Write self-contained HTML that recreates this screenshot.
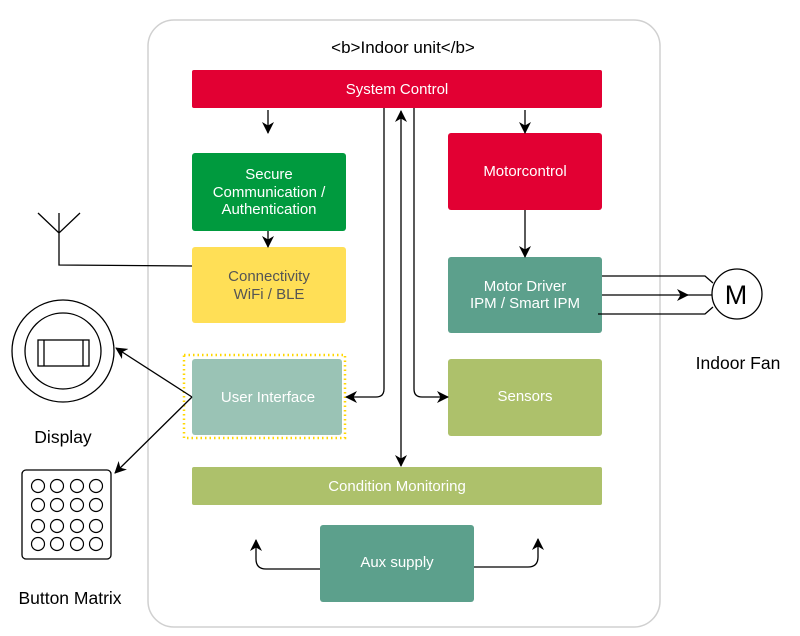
<!DOCTYPE html>
<html><head><meta charset="utf-8"><style>
html,body{margin:0;padding:0;background:#fff;}
svg{display:block;font-family:"Liberation Sans",Arial,sans-serif;}
</style></head><body>
<svg width="800" height="636" viewBox="0 0 800 636" xmlns="http://www.w3.org/2000/svg">
<defs>
<marker id="a" markerWidth="12" markerHeight="12" refX="11" refY="6" orient="auto-start-reverse" markerUnits="userSpaceOnUse">
<path d="M0,0 L12,6 L0,12 L3.5,6 Z" fill="#000"/></marker>
</defs>
<rect x="148" y="20" width="512" height="607" rx="26" fill="#fff" stroke="#d0d0d0" stroke-width="1.5"/>
<text x="403" y="53" font-size="17" text-anchor="middle" fill="#000">&lt;b&gt;Indoor unit&lt;/b&gt;</text>

<rect x="192" y="70" width="410" height="38" rx="2" fill="#e20033"/>
<text x="397" y="94" font-size="15" fill="#fff" text-anchor="middle">System Control</text>

<rect x="192" y="153" width="154" height="78" rx="3" fill="#009a3e"/>
<text x="269" y="179" font-size="15" fill="#fff" text-anchor="middle">Secure</text>
<text x="269" y="197" font-size="15" fill="#fff" text-anchor="middle">Communication /</text>
<text x="269" y="214" font-size="15" fill="#fff" text-anchor="middle">Authentication</text>

<rect x="192" y="247" width="154" height="76" rx="3" fill="#ffdf56"/>
<text x="269" y="281" font-size="15" fill="#555" text-anchor="middle">Connectivity</text>
<text x="269" y="299" font-size="15" fill="#555" text-anchor="middle">WiFi / BLE</text>

<rect x="448" y="133" width="154" height="77" rx="3" fill="#e20033"/>
<text x="525" y="176" font-size="15" fill="#fff" text-anchor="middle">Motorcontrol</text>

<rect x="448" y="257" width="154" height="76" rx="3" fill="#5ca08c"/>
<text x="525" y="291" font-size="15" fill="#fff" text-anchor="middle">Motor Driver</text>
<text x="525" y="308" font-size="15" fill="#fff" text-anchor="middle">IPM / Smart IPM</text>

<rect x="448" y="359" width="154" height="77" rx="3" fill="#adc16b"/>
<text x="525" y="401" font-size="15" fill="#fff" text-anchor="middle">Sensors</text>

<rect x="184" y="355" width="161" height="83" fill="none" stroke="#ffd700" stroke-width="2.5" stroke-dasharray="1.5,3"/>
<rect x="192" y="359" width="150" height="76" rx="3" fill="#9ac3b5"/>
<text x="268" y="402" font-size="15" fill="#fff" text-anchor="middle">User Interface</text>

<rect x="192" y="467" width="410" height="38" rx="2" fill="#adc16b"/>
<text x="397" y="491" font-size="15" fill="#fff" text-anchor="middle">Condition Monitoring</text>

<rect x="320" y="525" width="154" height="77" rx="3" fill="#5ca08c"/>
<text x="397" y="567" font-size="15" fill="#fff" text-anchor="middle">Aux supply</text>

<g stroke="#000" stroke-width="1.3" fill="none">
<line x1="268" y1="110" x2="268" y2="133" marker-end="url(#a)"/>
<line x1="268" y1="231" x2="268" y2="247" marker-end="url(#a)"/>
<line x1="525" y1="110" x2="525" y2="133" marker-end="url(#a)"/>
<line x1="525" y1="210" x2="525" y2="257" marker-end="url(#a)"/>
<path d="M384,108 V389 Q384,397 376,397 H346" marker-end="url(#a)"/>
<path d="M414,108 V389 Q414,397 422,397 H448" marker-end="url(#a)"/>
<line x1="401" y1="466" x2="401" y2="111" marker-end="url(#a)" marker-start="url(#a)"/>
<path d="M192,266 L59,265 V213 M38,213 L59,233 L80,213"/>
<line x1="192" y1="397" x2="116" y2="348" marker-end="url(#a)"/>
<line x1="192" y1="397" x2="115" y2="473" marker-end="url(#a)"/>
<path d="M602,276 H705 L713,283"/>
<line x1="602" y1="295" x2="688" y2="295" marker-end="url(#a)"/>
<line x1="686" y1="295" x2="712" y2="295"/>
<path d="M598,314 H705 L713,307"/>
<path d="M320,569 H266 Q256,569 256,559 V540" marker-end="url(#a)"/>
<path d="M474,567 H528 Q538,567 538,557 V539" marker-end="url(#a)"/>
<circle cx="737" cy="294" r="25" fill="#fff"/>
<circle cx="63" cy="351" r="51"/>
<circle cx="63" cy="351" r="38"/>
<rect x="38" y="340" width="51" height="26"/>
<line x1="44" y1="340" x2="44" y2="366"/>
<line x1="83" y1="340" x2="83" y2="366"/>
<rect x="22" y="470" width="89" height="89" rx="4"/>
<g stroke-width="1.2">
<circle cx="38" cy="486" r="6.5"/><circle cx="57" cy="486" r="6.5"/><circle cx="77" cy="486" r="6.5"/><circle cx="96" cy="486" r="6.5"/>
<circle cx="38" cy="505" r="6.5"/><circle cx="57" cy="505" r="6.5"/><circle cx="77" cy="505" r="6.5"/><circle cx="96" cy="505" r="6.5"/>
<circle cx="38" cy="526" r="6.5"/><circle cx="57" cy="526" r="6.5"/><circle cx="77" cy="526" r="6.5"/><circle cx="96" cy="526" r="6.5"/>
<circle cx="38" cy="544" r="6.5"/><circle cx="57" cy="544" r="6.5"/><circle cx="77" cy="544" r="6.5"/><circle cx="96" cy="544" r="6.5"/>
</g>
</g>
<text x="736" y="304" font-size="27" text-anchor="middle" fill="#000">M</text>
<text x="738" y="369" font-size="17.5" text-anchor="middle" fill="#000">Indoor Fan</text>
<text x="63" y="443" font-size="17.5" text-anchor="middle" fill="#000">Display</text>
<text x="70" y="604" font-size="17.5" text-anchor="middle" fill="#000">Button Matrix</text>
</svg>
</body></html>
